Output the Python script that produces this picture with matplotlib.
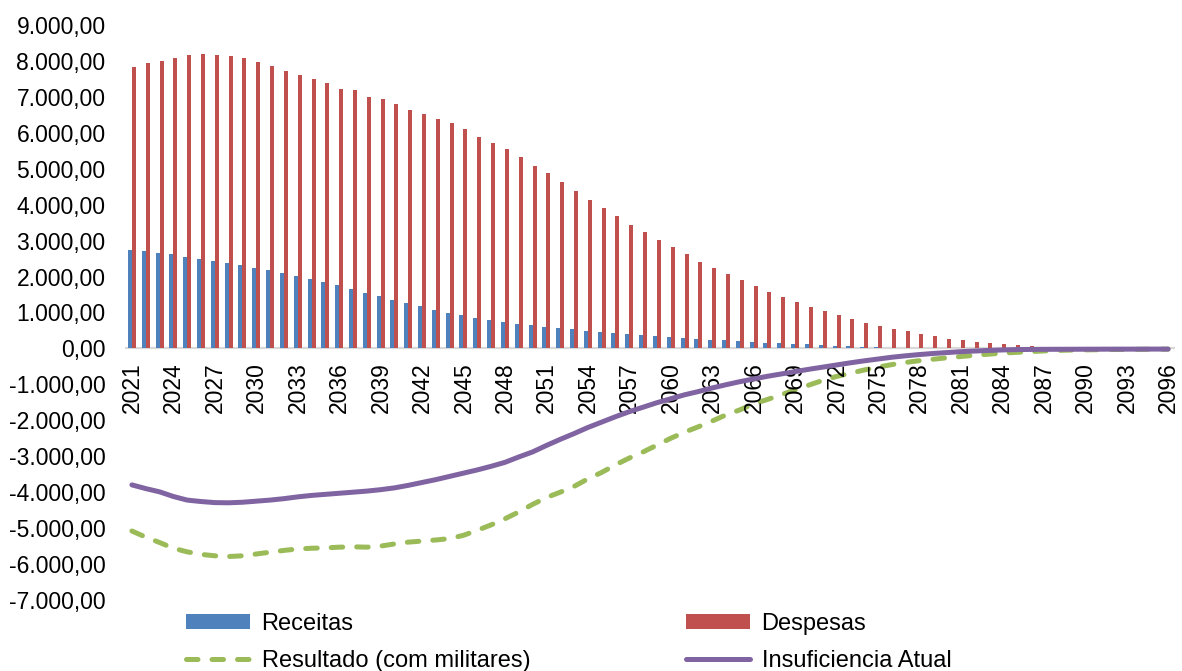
import matplotlib
matplotlib.use("Agg")
import matplotlib.pyplot as plt
from matplotlib.lines import Line2D
from matplotlib.patches import Patch
from matplotlib.ticker import FuncFormatter, MultipleLocator
import numpy as np

plt.rcParams["font.family"] = ["Liberation Sans", "DejaVu Sans"]

years = list(range(2021, 2097))

receitas = [
    2730, 2702, 2665, 2618, 2553, 2498, 2442, 2386, 2312, 2247,
    2173, 2098, 2024, 1931, 1838, 1755, 1643, 1551, 1448, 1337,
    1253, 1170, 1077, 994, 919, 854, 789, 743,
    687, 641, 594, 557, 529, 492, 446, 418, 390, 362,
    334, 306, 288, 260, 241, 223, 195, 176, 158, 139,
    121, 111, 93, 74, 65, 46, 28,
    20, 15, 11, 8, 6, 4, 3, 2, 2, 1,
    1, 1, 1, 0, 0, 0, 0, 0, 0, 0, 0,
]

despesas = [
    7836, 7939, 8003, 8078, 8162, 8180, 8152, 8134, 8078, 7976,
    7855, 7707, 7595, 7484, 7391, 7233, 7187, 7010, 6927, 6806,
    6630, 6527, 6379, 6267, 6100, 5896, 5710, 5543,
    5320, 5079, 4875, 4633, 4382, 4141, 3900, 3677, 3445, 3231,
    3018, 2813, 2618, 2414, 2228, 2061, 1894, 1736, 1569, 1421,
    1291, 1161, 1031, 919, 817, 715, 622, 538,
    473, 399, 334, 269, 223, 176, 139, 111, 84, 56,
    30, 15, 8, 4, 2, 1, 1, 0, 0, 0,
]

resultado = [
    -5080, -5250, -5400, -5560, -5660, -5730, -5770, -5790, -5770, -5720,
    -5670, -5620, -5580, -5560, -5550, -5530, -5520, -5530, -5500, -5440,
    -5390, -5360, -5330, -5290, -5200, -5060, -4910, -4740, -4550, -4340,
    -4150, -4000, -3840, -3630, -3450, -3240, -3050, -2880, -2690, -2500,
    -2330, -2180, -2020, -1850, -1710, -1540, -1420, -1290, -1150, -1020,
    -890, -780, -690, -600, -520, -450, -390, -340, -300, -260,
    -225, -190, -160, -130, -110, -90, -70, -55, -45, -40,
    -35, -30, -28, -25, -22, -20,
]

insuficiencia = [
    -3797, -3900, -3990, -4120, -4220, -4260, -4290, -4295, -4280, -4250,
    -4220, -4180, -4130, -4090, -4060, -4030, -4000, -3970, -3930, -3880,
    -3810, -3730, -3650, -3560, -3470, -3380, -3280, -3170, -3020, -2880,
    -2700, -2530, -2370, -2200, -2050, -1900, -1760, -1635, -1510, -1400,
    -1290, -1200, -1100, -1010, -925, -850, -775, -710, -645, -580,
    -520, -460, -400, -345, -295, -245, -205, -170, -140, -115,
    -90, -72, -56, -42, -32, -28, -25, -24, -23, -22,
    -21, -20, -20, -19, -18, -18,
]

BLUE = "#4F81BD"
RED = "#C0504D"
GREEN = "#9BBB59"
PURPLE = "#8064A2"


def br_number(v, _pos=None):
    # 1,234.50 -> 1.234,50
    s = f"{v:,.2f}"
    return s.replace(",", "X").replace(".", ",").replace("X", ".")


fig = plt.figure(figsize=(11.82, 6.71), dpi=100)
ax = fig.add_axes([125 / 1182, 1 - 600 / 671, 1050 / 1182, 575 / 671])

x = np.arange(len(years))
w = 0.29
ax.bar(x - w / 2, receitas, width=w, color=BLUE, zorder=2)
ax.bar(x + w / 2, despesas, width=w, color=RED, zorder=2)
ax.axhline(0, color="#D9D9D9", lw=1.6, zorder=1)

ax.plot(x, resultado, color=GREEN, lw=3.6, dashes=(2.3, 2.8),
        dash_capstyle="round", solid_capstyle="round", zorder=3)
ax.plot(x, insuficiencia, color=PURPLE, lw=3.6,
        solid_capstyle="round", zorder=4)

ax.set_xlim(-0.5, len(years) - 0.5)
ax.set_ylim(-7000, 9000)
ax.yaxis.set_major_locator(MultipleLocator(1000))
ax.yaxis.set_major_formatter(FuncFormatter(br_number))
ax.tick_params(axis="y", length=0, pad=14, labelsize=16.5)
ax.set_xticks([])
for side in ["top", "right", "bottom", "left"]:
    ax.spines[side].set_visible(False)

# year labels hang just under the zero line, every third year
for i in range(0, len(years), 3):
    ax.annotate(str(years[i]), xy=(i, 0), xytext=(0.3, -10),
                textcoords="offset points", rotation=90,
                ha="center", va="top", fontsize=16.5,
                annotation_clip=False)

handles = [
    Patch(facecolor=BLUE, label="Receitas"),
    Line2D([], [], color=GREEN, lw=3.6, dashes=(2.3, 2.8),
           dash_capstyle="round", label="Resultado (com militares)"),
    Patch(facecolor=RED, label="Despesas"),
    Line2D([], [], color=PURPLE, lw=3.6, solid_capstyle="round",
           label="Insuficiencia Atual"),
]
fig.legend(handles=handles, ncol=2, frameon=False, fontsize=17,
           loc="upper left", bbox_to_anchor=(186 / 1182, 1 - 613 / 671),
           borderaxespad=0, borderpad=0, handlelength=2.7, handleheight=0.6,
           handletextpad=0.5, columnspacing=6.6, labelspacing=0.65)

fig.savefig("out.png", dpi=100)
